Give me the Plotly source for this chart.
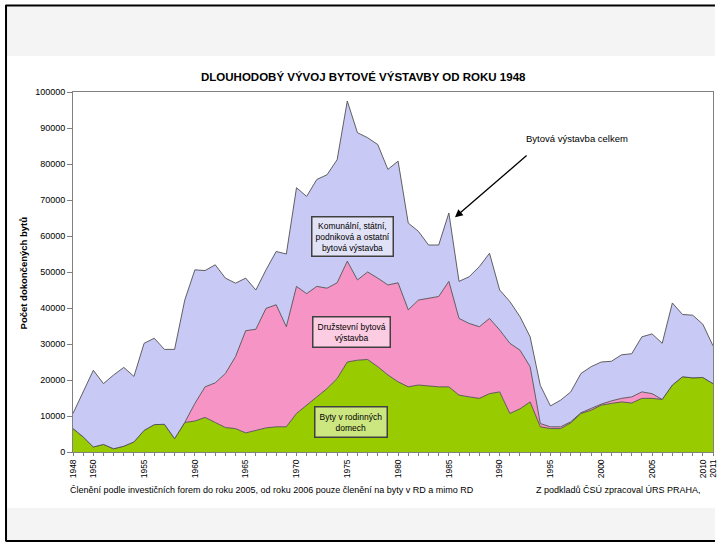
import plotly.graph_objects as go

# ---------------- data ----------------
roky = list(range(1948, 2012))

# Byty v rodinných domech (green)
byty_rd = [6500, 4200, 1400, 2100, 900, 1600, 2800, 6000, 7600, 7700,
           3700, 8200, 8600, 9600, 8200, 6800, 6500, 5300, 6000, 6700,
           7000, 7000, 10700, 13000, 15300, 17600, 20400, 25000, 25500, 25700,
           23700, 21400, 19500, 18100, 18600, 18300, 18100, 18100, 15800, 15300,
           14900, 16200, 16700, 10700, 12000, 13900, 7000, 6500, 6500, 8100,
           10700, 11600, 13000, 13500, 13900, 13600, 14900, 14900, 14600, 18600,
           20900, 20600, 20700, 19000]

# Družstevní bytová výstavba (pink)
druzstevni = [0, 0, 0, 0, 0, 0, 0, 0, 0, 0,
              0, 0, 4900, 8500, 11000, 15000, 20000, 28400, 28100, 33200,
              33900, 27800, 35300, 31000, 30700, 27900, 26600, 28000, 22300, 24300,
              24600, 25000, 27500, 21400, 23600, 24400, 25100, 29300, 21300, 20400,
              19900, 20900, 17200, 19500, 16300, 9800, 900, 500, 500, 300,
              200, 500, 300, 700, 1000, 1700, 1800, 1300, 0, 0,
              0, 0, 0, 0]

# Bytová výstavba celkem (top outline)
celkem = [10700, 16700, 22700, 19000, 21400, 23500, 21000, 30200, 31600, 28500,
          28500, 42200, 50600, 50400, 52000, 48300, 46900, 48300, 45000, 50600,
          55700, 55000, 73400, 71000, 75700, 77000, 81200, 97500, 88700, 87300,
          85400, 78500, 80800, 63600, 61300, 57500, 57500, 66400, 47400, 48700,
          51500, 55200, 45000, 41800, 37600, 32000, 18500, 12800, 14400, 16700,
          21800, 23700, 25000, 25200, 27000, 27300, 32000, 32800, 30200, 41400,
          38200, 38000, 35500, 29500]

# Komunální, státní, podniková a ostatní (lavender) = remainder of total
ostatni = [c - r - d for c, r, d in zip(celkem, byty_rd, druzstevni)]

popisky_let = {1948: "1948", 1950: "1950", 1955: "1955", 1960: "1960", 1965: "1965",
               1970: "1970", 1975: "1975", 1980: "1980", 1985: "1985", 1990: "1990",
               1995: "1995", 2000: "2000", 2005: "2005", 2010: "2010", 2011: "2011"}

y_ticks = list(range(0, 100001, 10000))

# ---------------- figure ----------------
FONT = "Liberation Sans, Arial, sans-serif"
W, H = 719, 546
ML, MR, MT, MB = 73, 1, 92, 94
PW, PH = W - ML - MR, H - MT - MB


def px(xp):
    return (xp - ML) / PW


def py(yp):
    return (H - MB - yp) / PH


fig = go.Figure()
edge = dict(color="#505050", width=0.9)
fig.add_trace(go.Scatter(x=roky, y=byty_rd, stackgroup="a", mode="lines",
                         line=edge, fillcolor="#99CC00", name="Byty v rodinných domech"))
fig.add_trace(go.Scatter(x=roky, y=druzstevni, stackgroup="a", mode="lines",
                         line=edge, fillcolor="#F794C6", name="Družstevní bytová výstavba"))
fig.add_trace(go.Scatter(x=roky, y=ostatni, stackgroup="a", mode="lines",
                         line=edge, fillcolor="#C9C9F5",
                         name="Komunální, státní, podniková a ostatní bytová výstavba"))

fig.update_layout(
    width=W, height=H,
    margin=dict(l=ML, r=MR, t=MT, b=MB),
    paper_bgcolor="white", plot_bgcolor="white",
    showlegend=False,
    font=dict(family=FONT, color="black", size=9),
)

fig.update_xaxes(range=[1948, 2011], tickmode="array",
                 tickvals=roky, ticktext=[popisky_let.get(r, "") for r in roky],
                 tickangle=-90, ticks="outside", ticklen=3, tickcolor="#808080",
                 tickfont=dict(size=8.5, family=FONT), ticklabeloverflow="allow",
                 showline=True, linecolor="#808080", linewidth=1, mirror=True,
                 showgrid=False, zeroline=False)
fig.update_yaxes(range=[0, 100000], tickmode="array", tickvals=y_ticks,
                 ticktext=[str(v) for v in y_ticks],
                 ticks="outside", ticklen=5, tickcolor="#808080",
                 tickfont=dict(size=9, family=FONT),
                 showline=True, linecolor="#808080", linewidth=1, mirror=True,
                 showgrid=False, zeroline=False)

shapes = [
    # light gray bands (top and bottom)
    dict(type="rect", xref="paper", yref="paper", x0=px(6), x1=px(720), y0=py(56), y1=py(7),
         fillcolor="#F4F4F4", line=dict(width=0), layer="below"),
    dict(type="rect", xref="paper", yref="paper", x0=px(6), x1=px(720), y0=py(540), y1=py(508),
         fillcolor="#F4F4F4", line=dict(width=0), layer="below"),
    # black frame
    dict(type="line", xref="paper", yref="paper", x0=px(5), x1=px(720), y0=py(5.5), y1=py(5.5),
         line=dict(color="black", width=2)),
    dict(type="line", xref="paper", yref="paper", x0=px(5.5), x1=px(5.5), y0=py(5), y1=py(541),
         line=dict(color="black", width=2)),
    dict(type="line", xref="paper", yref="paper", x0=px(5), x1=px(720), y0=py(541), y1=py(541),
         line=dict(color="black", width=2)),
]
fig.update_layout(shapes=shapes)

ann = [
    dict(text="<b>DLOUHODOBÝ VÝVOJ BYTOVÉ VÝSTAVBY OD ROKU 1948</b>", xref="paper", yref="paper",
         x=px(366), y=py(77), showarrow=False, font=dict(size=11.5, family=FONT),
         xanchor="center", yanchor="middle"),
    dict(text="<b>Počet dokončených bytů</b>", xref="paper", yref="paper",
         x=px(23), y=py(273), showarrow=False, textangle=-90, font=dict(size=9.5, family=FONT),
         xanchor="center", yanchor="middle"),
    dict(text="Členění podle investičních forem do roku 2005, od roku 2006 pouze členění na byty v RD a mimo RD",
         xref="paper", yref="paper", x=px(68), y=py(490), showarrow=False,
         font=dict(size=9, family=FONT), xanchor="left", yanchor="middle"),
    dict(text="Z podkladů ČSÚ zpracoval ÚRS PRAHA,", xref="paper", yref="paper",
         x=px(708), y=py(490), showarrow=False, font=dict(size=9, family=FONT),
         xanchor="right", yanchor="middle"),
    # boxed labels
    dict(text="Komunální, státní,<br>podniková a ostatní<br>bytová výstavba", xref="x", yref="y",
         x=1975.5, y=60000, showarrow=False, font=dict(size=8.5, family=FONT),
         bgcolor="#E2E2F7", bordercolor="#404040", borderwidth=1.5, borderpad=3),
    dict(text="Družstevní bytová<br>výstavba", xref="x", yref="y",
         x=1975.4, y=33400, showarrow=False, font=dict(size=8.5, family=FONT),
         bgcolor="#FCCCE3", bordercolor="#404040", borderwidth=1.5, borderpad=4),
    dict(text="Byty v rodinných<br>domech", xref="x", yref="y",
         x=1975.4, y=8400, showarrow=False, font=dict(size=8.5, family=FONT),
         bgcolor="#CCE680", bordercolor="#404040", borderwidth=1.5, borderpad=4),
    # total label with arrow
    dict(text="Bytová výstavba celkem", xref="x", yref="y", x=1997.6, y=87200,
         showarrow=False, font=dict(size=9.5, family=FONT)),
    dict(text="", xref="x", yref="y", x=1985.6, y=65200, ax=1992.8, ay=82700,
         axref="x", ayref="y", showarrow=True, arrowhead=2, arrowsize=1.2,
         arrowwidth=1.3, arrowcolor="black"),
]
fig.update_layout(annotations=ann)

fig.write_html("out.html", config={"displayModeBar": False},
               post_script="document.body.style.margin='0';document.body.style.overflow='hidden';")
